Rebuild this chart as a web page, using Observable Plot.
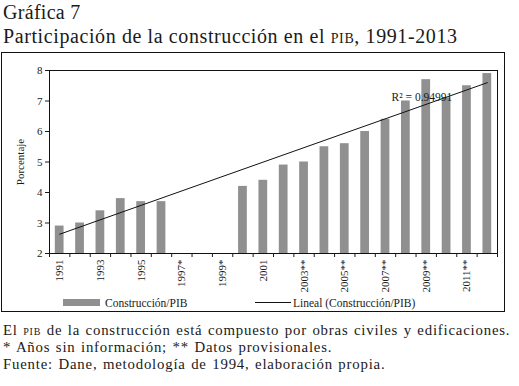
<!DOCTYPE html>
<html>
<head>
<meta charset="utf-8">
<script src="https://cdn.jsdelivr.net/npm/d3@7"></script>
<script src="https://cdn.jsdelivr.net/npm/@observablehq/plot@0.6"></script>
<style>
  body { margin: 0; background: #fff; font-family: "Liberation Serif", serif; color: #1a1a1a; }
  #page { position: relative; width: 519px; height: 386px; overflow: hidden; }
  .t1 { position: absolute; left: 3px; top: 0px; font-size: 20px; letter-spacing: 0.3px; line-height: 24px; }
  .t2 { position: absolute; left: 3px; top: 24px; font-size: 20px; letter-spacing: 0.6px; line-height: 24px; }
  .sc { font-variant: small-caps; text-transform: lowercase; }
  #box { position: absolute; left: 1px; top: 52px; width: 502px; height: 258px; border: 1px solid #111; }
  #chart { position: absolute; left: 0; top: 52px; }
  #chart svg, #chart svg text { font-family: "Liberation Serif", serif !important; }
  .leg { position: absolute; font-size: 11.5px; top: 297px; }
  .foot { position: absolute; left: 3px; font-size: 14.8px; line-height: 17px; letter-spacing: 0.8px; word-spacing: 1px; }
</style>
</head>
<body>
<div id="page">
  <div class="t1">Gráfica 7</div>
  <div class="t2">Participación de la construcción en el <span class="sc">PIB</span>, 1991-2013</div>
  <div id="box"></div>
  <div id="chart"></div>
  <div class="leg" style="left:63px;"><span style="display:inline-block;width:37px;height:7px;background:#909090;vertical-align:1px;margin-right:5px;"></span>Construcción/PIB</div>
  <div class="leg" style="left:255px;"><span style="display:inline-block;width:36px;height:1px;background:#111;vertical-align:4px;margin-right:2px;"></span>Lineal (Construcción/PIB)</div>
  <div class="foot" style="top:322px;">El <span class="sc">PIB</span> de la construcción está compuesto por obras civiles y edificaciones.</div>
  <div class="foot" style="top:339px;">* Años sin información; ** Datos provisionales.</div>
  <div class="foot" style="top:356px;">Fuente: Dane, metodología de 1994, elaboración propia.</div>
</div>
<script>
// Data
const years = ["1991","1992","1993","1994","1995","1996","1997","1998","1999","2000","2001",
               "2002","2003","2004","2005","2006","2007","2008","2009","2010","2011","2012"];
const values = [2.9, 3.0, 3.4, 3.8, 3.7, 3.7, null, null, null, 4.2, 4.4,
                4.9, 5.0, 5.5, 5.6, 6.0, 6.4, 7.0, 7.7, 7.1, 7.5, 7.9];
const tickLabels = ["1991","1993","1995","1997*","1999*","2001","2003**","2005**","2007**","2009**","2011**"];
const yTicks = [2, 3, 4, 5, 6, 7, 8];
const r2Label = "R² = 0.94991";

const data = years.map((y, i) => ({year: y, i, value: values[i]})).filter(d => d.value != null);

// linear trend (category index as x)
const mx = d3.mean(data, d => d.i), my = d3.mean(data, d => d.value);
const sxy = d3.sum(data, d => (d.i - mx) * (d.value - my));
const sxx = d3.sum(data, d => (d.i - mx) ** 2);
const slope = sxy / sxx, intercept = my - slope * mx;
const trend = [0, years.length - 1].map(i => ({x: i + 0.5, y: intercept + slope * i}));

const nCat = years.length;
const labelPos = tickLabels.map((_, k) => 2 * k + 0.5);

const chart = Plot.plot({
  width: 505,
  height: 250,
  marginLeft: 49,
  marginRight: 8,
  marginTop: 18,
  marginBottom: 49,
  style: {fontFamily: "'Liberation Serif', serif", fontSize: "11px", color: "#1a1a1a", background: "transparent"},
  x: {domain: [0, nCat]},
  y: {domain: [2, 8]},
  marks: [
    Plot.rect(data, {x1: d => d.i + 0.285, x2: d => d.i + 0.715, y1: 2, y2: "value", fill: "#909090"}),
    Plot.line(trend, {x: "x", y: "y", stroke: "#111", strokeWidth: 1}),
    Plot.text([r2Label], {x: 16.8, y: 7.12, text: d => d, textAnchor: "start", fontSize: 11.5, fill: "#1a1a1a"}),
    Plot.frame({stroke: "#111"}),
    Plot.axisY({ticks: yTicks, tickSize: 4, tickPadding: 3, tickFormat: d => String(d), label: "Porcentaje", labelAnchor: "center", labelArrow: "none", labelOffset: 33, fontSize: 11}),
    Plot.axisX({ticks: d3.range(nCat + 1), tickSize: 4, tickFormat: () => "", label: null}),
    Plot.axisX({ticks: labelPos, tickSize: 0, tickPadding: 6, tickRotate: -90, tickFormat: d => tickLabels[(d - 0.5) / 2], label: null, fontSize: 11})
  ]
});
document.getElementById("chart").appendChild(chart);
</script>
</body>
</html>
